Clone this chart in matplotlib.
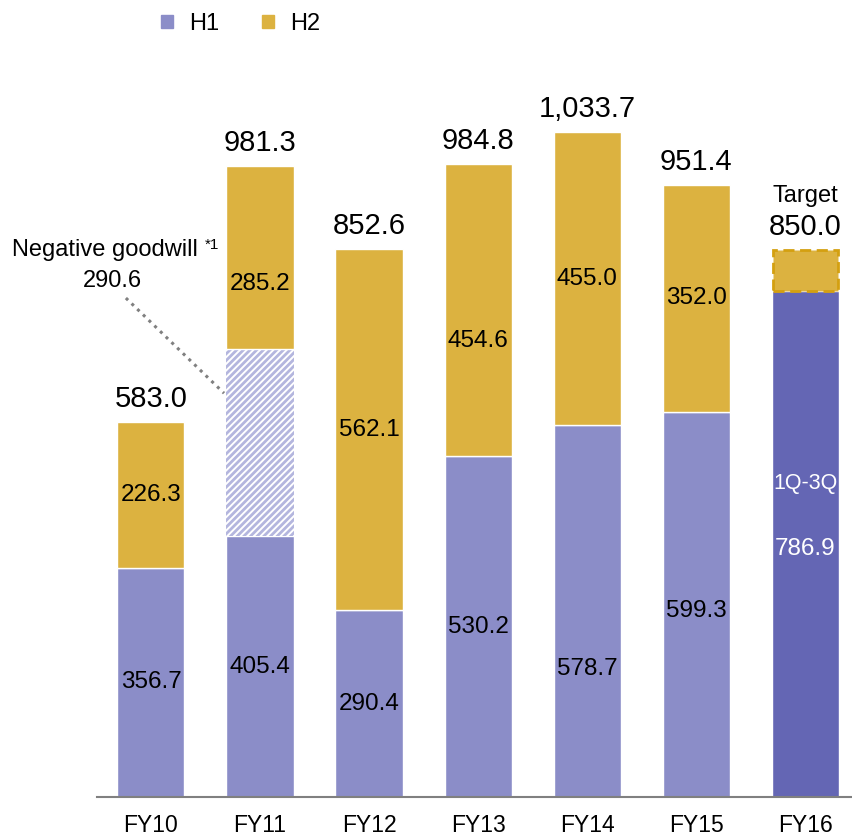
import numpy as np
import matplotlib.pyplot as plt

plt.rcParams['font.family'] = ['Liberation Sans', 'DejaVu Sans']

# data
years = ['FY10', 'FY11', 'FY12', 'FY13', 'FY14', 'FY15', 'FY16']
h1 = [356.7, 405.4, 290.4, 530.2, 578.7, 599.3, 786.9]
goodwill = [0, 290.6, 0, 0, 0, 0, 0]
h2 = [226.3, 285.2, 562.1, 454.6, 455.0, 352.0, 63.1]
totals = ['583.0', '981.3', '852.6', '984.8', '1,033.7', '951.4', '850.0']
h1_labels = ['356.7', '405.4', '290.4', '530.2', '578.7', '599.3', '786.9']
h2_labels = ['226.3', '285.2', '562.1', '454.6', '455.0', '352.0', '']
# small manual shifts of the in-bar labels (data units)
h1_shift = [0, 0, 0, 0, -90, -11, 0]
h2_shift = [0, -40, 0, -48, 0, 0, 0]

c_h1 = '#8b8dc8'
c_h1_dark = '#6466b4'
c_h2 = '#dcb240'

W, H = 852, 836
fig = plt.figure(figsize=(W / 100, H / 100), dpi=100)
ax = fig.add_axes([97 / W, 39 / H, 755 / W, 797 / H])

x = np.arange(len(years))
bw = 0.615
h1_colors = [c_h1] * 6 + [c_h1_dark]
ax.bar(x, h1, bw, color=h1_colors, edgecolor='white', linewidth=1)

plt.rcParams['hatch.linewidth'] = 2.0
bottom2 = np.array(h1)
ax.bar(x[1], goodwill[1], bw, bottom=h1[1], facecolor='white',
       edgecolor='#b4b6de', hatch='/////', linewidth=0)
bottom2 = bottom2 + np.array(goodwill)

ax.bar(x[:6], h2[:6], bw, bottom=bottom2[:6], color=c_h2,
       edgecolor='white', linewidth=1)
ax.bar(x[6], h2[6], bw * 0.97, bottom=bottom2[6], facecolor=c_h2,
       edgecolor='#d4a010', linewidth=2, linestyle=(0, (4, 2)))

tops = bottom2 + np.array(h2)
for i in range(len(years)):
    ax.text(x[i], tops[i] + 14, totals[i], ha='center', va='bottom', fontsize=21)
    if i < 6:
        ax.text(x[i], h1[i] / 2 + h1_shift[i], h1_labels[i], ha='center',
                va='center', fontsize=17.5)
        ax.text(x[i], bottom2[i] + h2[i] / 2 + h2_shift[i], h2_labels[i],
                ha='center', va='center', fontsize=17.5)

ax.text(x[6], tops[6] + 68, 'Target', ha='center', va='bottom', fontsize=17)
ax.text(x[6], 487, '1Q-3Q', ha='center', va='center', fontsize=15.5, color='white')
ax.text(x[6], 385, h1_labels[6], ha='center', va='center', fontsize=17.5, color='white')

# negative goodwill callout
ax.text(0.43, 851, 'Negative goodwill', ha='right', va='center', fontsize=17)
ax.text(0.555, 858, '*1', ha='center', va='center', fontsize=11)
ax.text(-0.35, 802, '290.6', ha='center', va='center', fontsize=17)
ax.plot([-0.23, 0.67], [776, 628], linestyle=(0, (1, 1.6)), color='#808080',
        linewidth=2.2)

ax.set_xlim(-0.495, 6.43)
ax.set_ylim(0, 797 / 0.643)
ax.set_xticks(x)
ax.set_xticklabels(years, fontsize=16.5)
ax.tick_params(axis='x', length=0, pad=12)
ax.set_yticks([])
for s in ['top', 'right', 'left']:
    ax.spines[s].set_visible(False)
ax.spines['bottom'].set_color('#808080')
ax.spines['bottom'].set_linewidth(1.5)

h1_patch = plt.Rectangle((0, 0), 1, 1, color=c_h1)
h2_patch = plt.Rectangle((0, 0), 1, 1, color=c_h2)
fig.legend([h1_patch, h2_patch], ['H1', 'H2'], loc='upper left',
           bbox_to_anchor=(140 / W, 1.01), ncol=2, frameon=False, fontsize=17,
           handlelength=0.5, handleheight=0.5, columnspacing=1.8,
           handletextpad=0.7)

fig.savefig('out.png', dpi=100)
